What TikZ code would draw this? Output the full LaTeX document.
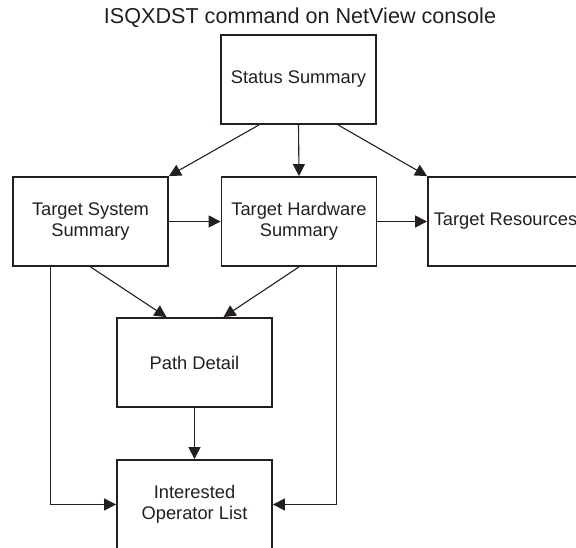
\documentclass[tikz,border=0pt]{standalone}
\usepackage{fontspec}
\setmainfont{Liberation Sans}
\usetikzlibrary{arrows.meta}
\definecolor{ink}{RGB}{35,31,32}
\tikzset{
	box/.style={draw=ink,text=ink,line width=1.8pt,minimum width=155pt,minimum height=89pt,
		align=center,inner sep=0pt,font=\fontsize{18.3}{20.5}\selectfont},
	link/.style={draw=ink,line width=1.1pt,-{Triangle[length=12pt,width=12pt]}}
}
\begin{document}
\begin{tikzpicture}[x=1pt,y=-1pt]
\useasboundingbox (0,0) rectangle (576,548);
\node[anchor=base,text=ink,font=\fontsize{21.6}{24}\selectfont] (title) at (300,23.5) {ISQXDST command on NetView console};
% boxes
\node[box] (status) at (298.5,79.5) {Status Summary};
\node[box] (ts) at (90.5,221.5) {Target System\\Summary};
\node[box] (th) at (299,221.5) {Target Hardware\\Summary};
\node[box] (tr) at (505.5,221.5) {Target Resources};
\node[box] (pd) at (194.5,362.5) {Path Detail};
\node[box] (iol) at (194.5,504.5) {Interested\\Operator List};
% connectors
\draw[link] ([xshift=-39.5pt]status.south) -- (ts.north east);
\draw[link] (status.south) -- (th.north);
\draw[link] ([xshift=39.5pt]status.south) -- (tr.north west);
\draw[link] (ts) -- (th);
\draw[link] (th) -- (tr);
\draw[link] (ts.south) -- ([xshift=-28pt]pd.north);
\draw[link] (th.south) -- ([xshift=29pt]pd.north);
\draw[link] (pd) -- (iol);
\draw[link] ([xshift=38pt]ts.south west) |- (iol.west);
\draw[link] ([xshift=-40.5pt]th.south east) |- (iol.east);
\end{tikzpicture}
\end{document}
